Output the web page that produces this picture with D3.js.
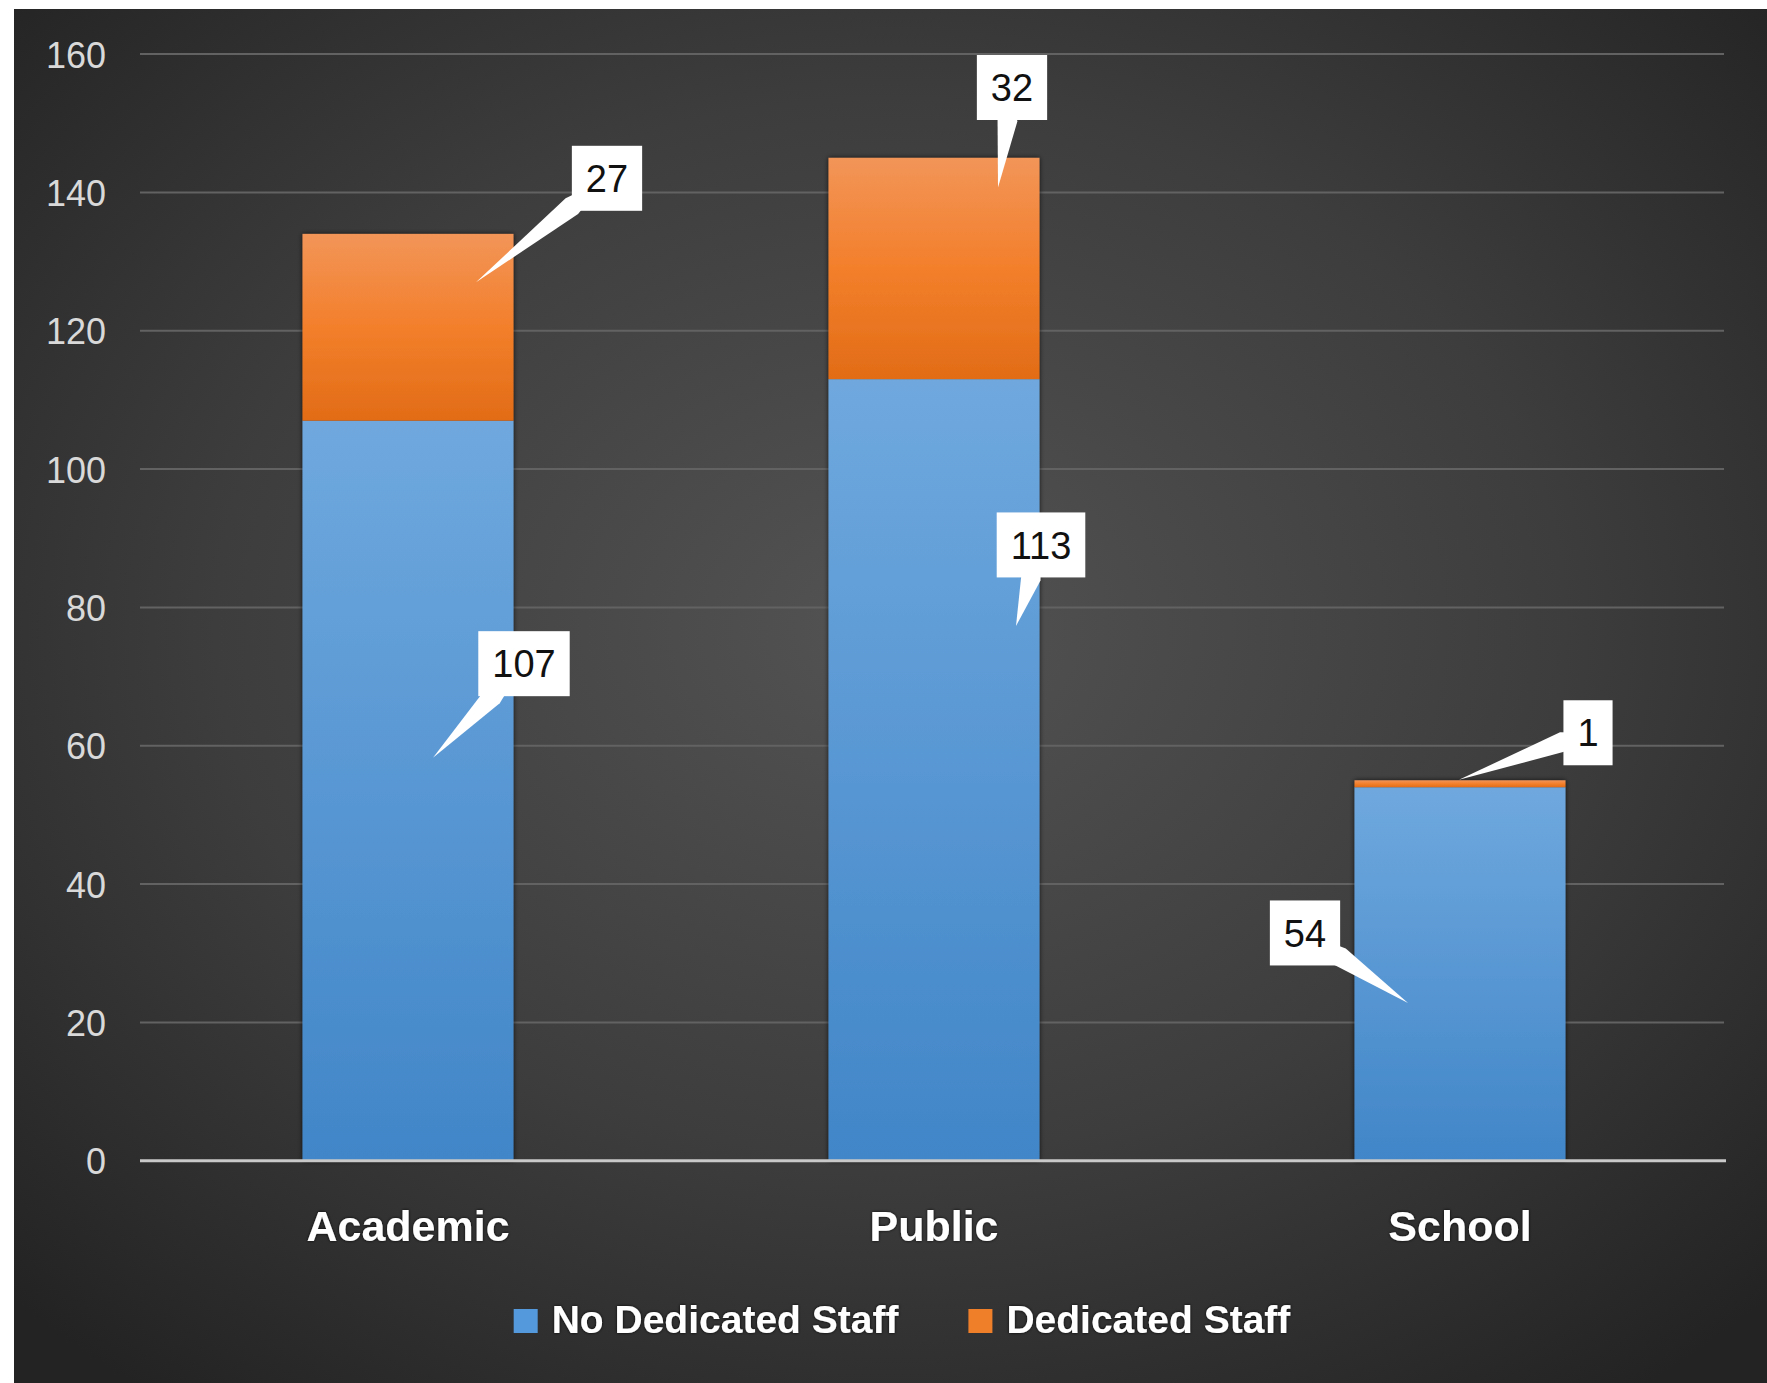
<!DOCTYPE html>
<html><head><meta charset="utf-8">
<script src="https://cdn.jsdelivr.net/npm/d3@7"></script>
<style>html,body{margin:0;padding:0;background:#fff;} svg{display:block}</style>
</head><body>
<svg id="chart" width="1767" height="1383"></svg>
<script>
// ---- data ----
const categories = ["Academic", "Public", "School"];
const noDedicatedStaff = [107, 113, 54];
const dedicatedStaff = [27, 32, 1];
const seriesNames = ["No Dedicated Staff", "Dedicated Staff"];
const yTicks = [0, 20, 40, 60, 80, 100, 120, 140, 160];

// ---- callout placement (box centre and pointer tip, relative to segment centre) ----
const calloutLayout = [
  [{box: [116, -127], tip: [25, -33]}, {box: [107, -225], tip: [82, -144]}, {box: [-155, -41], tip: [-52, 29]}],
  [{box: [199, -149], tip: [68, -45]}, {box: [78, -181], tip: [64, -81]}, {box: [128, -51], tip: [-1, -4]}]
];

const W = 1767, H = 1383;
const svg = d3.select("#chart");
const defs = svg.append("defs");

// background: dark radial gradient
const bg = defs.append("radialGradient").attr("id", "bgGrad")
  .attr("cx", "50%").attr("cy", "45%").attr("r", "70%");
bg.append("stop").attr("offset", "0%").attr("stop-color", "#535353");
bg.append("stop").attr("offset", "55%").attr("stop-color", "#3d3d3d");
bg.append("stop").attr("offset", "100%").attr("stop-color", "#232323");

const gBlue = defs.append("linearGradient").attr("id", "blueGrad").attr("x1", 0).attr("y1", 0).attr("x2", 0).attr("y2", 1);
gBlue.append("stop").attr("offset", "0%").attr("stop-color", "#6fa8de");
gBlue.append("stop").attr("offset", "100%").attr("stop-color", "#4186c8");
const gOrange = defs.append("linearGradient").attr("id", "orangeGrad").attr("x1", 0).attr("y1", 0).attr("x2", 0).attr("y2", 1);
gOrange.append("stop").attr("offset", "0%").attr("stop-color", "#f29558");
gOrange.append("stop").attr("offset", "50%").attr("stop-color", "#f37f2b");
gOrange.append("stop").attr("offset", "100%").attr("stop-color", "#e26c17");

const shadow = defs.append("filter").attr("id", "barShadow").attr("x", "-10%").attr("y", "-10%").attr("width", "120%").attr("height", "120%");
shadow.append("feDropShadow").attr("dx", 0).attr("dy", 0).attr("stdDeviation", 2.5)
  .attr("flood-color", "#000").attr("flood-opacity", 0.75);
const textShadow = defs.append("filter").attr("id", "textShadow").attr("x", "-10%").attr("y", "-20%").attr("width", "120%").attr("height", "140%");
textShadow.append("feDropShadow").attr("dx", 0).attr("dy", 0).attr("stdDeviation", 1.5)
  .attr("flood-color", "#000").attr("flood-opacity", 0.9);

svg.append("rect").attr("x", 14).attr("y", 9).attr("width", W - 14).attr("height", H - 9)
  .attr("fill", "url(#bgGrad)");

// ---- scales ----
const x = d3.scaleBand().domain(categories).range([140, 1728])
  .paddingInner(0.599).paddingOuter(0.309);
const y = d3.scaleLinear().domain([0, 160]).range([1160.7, 54.1]);

// gridlines
svg.append("g").selectAll("line").data(yTicks.filter(d => d > 0)).join("line")
  .attr("x1", 140).attr("x2", 1724)
  .attr("y1", d => y(d)).attr("y2", d => y(d))
  .attr("stroke", "#626262").attr("stroke-width", 2);

// y axis labels
const yAxis = d3.axisLeft(y).tickValues(yTicks).tickSize(0).tickPadding(0);
const yg = svg.append("g").attr("transform", "translate(106,0)").call(yAxis);
yg.select(".domain").remove();
yg.selectAll("text").attr("fill", "#d9d9d9").attr("font-family", "'Liberation Sans', Arial, sans-serif")
  .attr("font-size", 36).attr("dy", "0.36em");

// ---- stacked bars ----
const rows = categories.map((c, i) => ({cat: c, v0: noDedicatedStaff[i], v1: dedicatedStaff[i]}));
const stack = d3.stack().keys(["v0", "v1"])(rows);
const fills = ["url(#blueGrad)", "url(#orangeGrad)"];
const barG = svg.append("g").attr("filter", "url(#barShadow)");
stack.forEach((layer, si) => {
  barG.append("g").selectAll("rect").data(layer).join("rect")
    .attr("x", d => x(d.data.cat))
    .attr("width", x.bandwidth())
    .attr("y", d => y(d[1]))
    .attr("height", d => y(d[0]) - y(d[1]))
    .attr("fill", fills[si]);
});

// baseline axis
svg.append("line").attr("x1", 140).attr("x2", 1726).attr("y1", y(0)).attr("y2", y(0))
  .attr("stroke", "#c9c9c9").attr("stroke-width", 3);

// category labels
const xAxis = d3.axisBottom(x).tickSize(0).tickPadding(0);
const xg = svg.append("g").attr("transform", "translate(0,1241)").call(xAxis);
xg.select(".domain").remove();
xg.selectAll("text").attr("fill", "#ffffff").attr("font-family", "'Liberation Sans', Arial, sans-serif")
  .attr("font-size", 43).attr("font-weight", "bold").attr("dy", 0).attr("y", 0)
  .attr("filter", "url(#textShadow)");

// ---- callouts ----
const calloutG = svg.append("g");
stack.forEach((layer, si) => {
  layer.forEach((d, ci) => {
    const value = d[1] - d[0];
    const cx = x(d.data.cat) + x.bandwidth() / 2;
    const cy = (y(d[0]) + y(d[1])) / 2;
    const lay = calloutLayout[si][ci];
    const bx = cx + lay.box[0], by = cy + lay.box[1];
    const tx = cx + lay.tip[0], ty = cy + lay.tip[1];
    const g = calloutG.append("g");
    const poly = g.append("path").attr("fill", "#fff");
    const rect = g.append("rect").attr("fill", "#fff");
    const txt = g.append("text").text(value)
      .attr("x", bx).attr("y", by).attr("dy", "0.36em")
      .attr("text-anchor", "middle")
      .attr("font-family", "'Liberation Sans', Arial, sans-serif")
      .attr("font-size", 38).attr("fill", "#111");
    const tw = txt.node().getComputedTextLength();
    const bw = tw + 28, bh = 65;
    rect.attr("x", bx - bw / 2).attr("y", by - bh / 2).attr("width", bw).attr("height", bh);
    // pointer wedge from the box edge to the tip
    const dx = tx - bx, dy = ty - by;
    const len = Math.hypot(dx, dy);
    const t = Math.min((bw / 2) / Math.abs(dx || 1e-6), (bh / 2) / Math.abs(dy || 1e-6));
    const ex = bx + dx * t, ey = by + dy * t;
    const nx = -dy / len, ny = dx / len, hw = 10;
    poly.attr("d", `M${tx},${ty}L${ex + nx * hw},${ey + ny * hw}L${bx},${by}L${ex - nx * hw},${ey - ny * hw}Z`);
  });
});

// ---- legend ----
const legendColors = ["#5499dc", "#f07f2a"];
const legend = svg.append("g");
const items = seriesNames.map((name, i) => {
  const g = legend.append("g");
  g.append("rect").attr("width", 24).attr("height", 24).attr("y", -24).attr("fill", legendColors[i]);
  const t = g.append("text").text(name).attr("x", 38)
    .attr("font-family", "'Liberation Sans', Arial, sans-serif").attr("font-size", 39)
    .attr("font-weight", "bold").attr("fill", "#ffffff").attr("filter", "url(#textShadow)");
  return {g, w: 38 + t.node().getComputedTextLength()};
});
const gap = 70;
const total = d3.sum(items, d => d.w) + gap * (items.length - 1);
let lx = 902 - total / 2;
items.forEach(it => { it.g.attr("transform", `translate(${lx},1333)`); lx += it.w + gap; });
</script>
</body></html>
